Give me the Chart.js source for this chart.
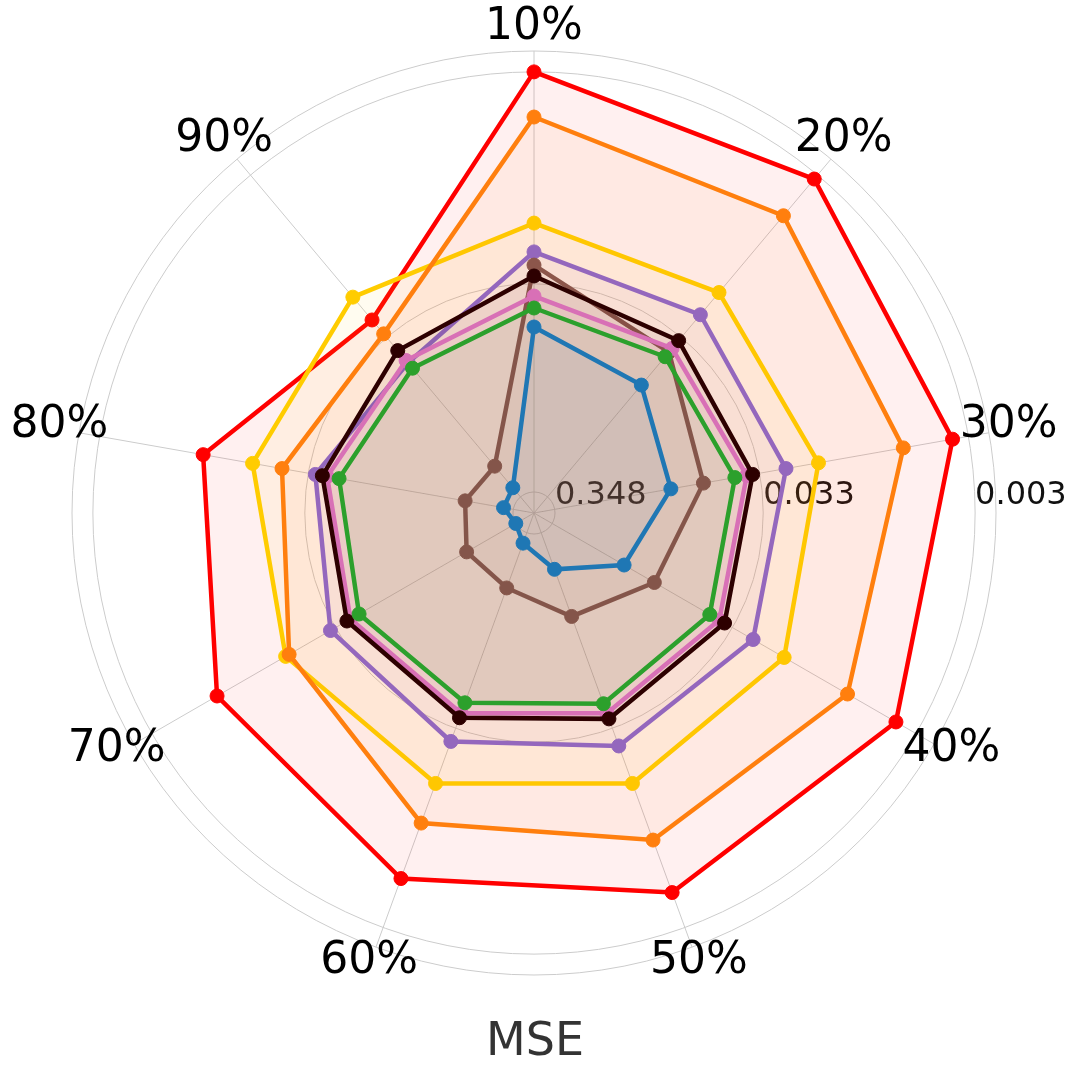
<!DOCTYPE html>
<html>
<head>
<meta charset="utf-8">
<script src="https://cdn.jsdelivr.net/npm/chart.js@4.4.1/dist/chart.umd.min.js"></script>
<style>
    html, body { margin: 0; padding: 0; background: #ffffff; }
    #wrap { position: relative; width: 1080px; height: 1079px; }
</style>
</head>
<body>
<div id="wrap"><canvas id="radarChart"></canvas></div>
<script>
// --- Data (MSE per missing ratio) ---
const axisLabels = ['10%', '20%', '30%', '40%', '50%', '60%', '70%', '80%', '90%'];
const tickValues = [0.348, 0.033, 0.003];
const tickLabels = ['0.348', '0.033', '0.003'];

const mseRed    = [0.00300, 0.00318, 0.00360, 0.00390, 0.00457, 0.00541, 0.00702, 0.00986, 0.0255];
const mseOrange = [0.00500, 0.00547, 0.00634, 0.00734, 0.00860, 0.01055, 0.0180, 0.0244, 0.0313];
const mseYellow = [0.0166, 0.0170, 0.0168, 0.0168, 0.0170, 0.0170, 0.0172, 0.0174, 0.0182];
const msePurple = [0.0230, 0.0236, 0.0244, 0.0252, 0.0267, 0.0282, 0.0309, 0.0358, 0.0481];
const mseBlack  = [0.0302, 0.0346, 0.0358, 0.0366, 0.0370, 0.0375, 0.0383, 0.0388, 0.0401];
const msePink   = [0.0379, 0.0388, 0.0383, 0.0392, 0.0396, 0.0396, 0.0401, 0.0410, 0.0464];
const mseGreen  = [0.0434, 0.0439, 0.0439, 0.0444, 0.0444, 0.0449, 0.0449, 0.0470, 0.0520];
const mseBrown  = [0.0267, 0.0410, 0.0630, 0.0916, 0.127, 0.179, 0.183, 0.200, 0.221];
const mseBlue   = [0.0538, 0.0667, 0.0916, 0.136, 0.224, 0.307, 0.348, 0.311, 0.304];

// lower MSE sits further out: radial axis is -log10(MSE)
const toScore = m => -Math.log10(m);
const R_MIN = 0.3552;
const R_MAX = 2.6255;

function series(data, color) {
    return {
        data: data.map(toScore),
        borderColor: color,
        backgroundColor: hexA(color, 0.06),
        pointBackgroundColor: color,
        pointBorderColor: color,
        borderWidth: 4.5,
        pointRadius: 7,
        pointBorderWidth: 1,
        fill: true
    };
}

function hexA(hex, a) {
    const n = parseInt(hex.slice(1), 16);
    return `rgba(${(n >> 16) & 255}, ${(n >> 8) & 255}, ${n & 255}, ${a})`;
}

// first dataset is painted last (on top)
const datasets = [
    series(mseBlue,   '#1f77b4'),
    series(mseGreen,  '#2ca02c'),
    series(mseBlack,  '#2d0000'),
    series(msePink,   '#e377c2'),
    series(mseBrown,  '#8c564b'),
    series(msePurple, '#9467bd'),
    series(mseOrange, '#ff7f0e'),
    series(mseYellow, '#ffcc00'),
    series(mseRed,    '#ff0000')
];

// --- Labels drawn around the radar ---
const labelPlugin = {
    id: 'labelPlugin',
    beforeDatasetsDraw(chart) {
        const r = chart.scales.r;
        const ctx = chart.ctx;
        ctx.save();
        ctx.font = '32px "DejaVu Sans"';
        ctx.fillStyle = '#111111';
        ctx.textAlign = 'left';
        ctx.textBaseline = 'middle';
        tickValues.forEach((v, i) => {
            const d = r.getDistanceFromCenterForValue(toScore(v));
            ctx.fillText(tickLabels[i], r.xCenter + d, r.yCenter - 17);
        });
        ctx.restore();
    },
    afterDraw(chart) {
        const r = chart.scales.r;
        const ctx = chart.ctx;
        ctx.save();
        ctx.font = '44px "DejaVu Sans"';
        ctx.fillStyle = '#000000';
        ctx.textAlign = 'center';
        ctx.textBaseline = 'middle';
        const dist = r.drawingArea * 1.043;
        axisLabels.forEach((lab, i) => {
            const p = r.getPointPosition(i, dist);
            ctx.fillText(lab, p.x, p.y - 4);
        });
        ctx.font = '46px "DejaVu Sans"';
        ctx.fillStyle = '#333333';
        ctx.fillText('MSE', r.xCenter + 1, 1043);
        ctx.restore();
    }
};

const ctxRadar = document.getElementById('radarChart').getContext('2d');
new Chart(ctxRadar, {
    type: 'radar',
    data: { labels: axisLabels, datasets: datasets },
    options: {
        responsive: true,
        maintainAspectRatio: false,
        animation: false,
        devicePixelRatio: 1,
        layout: { padding: { left: 72, right: 84, top: 51, bottom: 104 } },
        elements: { line: { tension: 0 } },
        plugins: {
            legend: { display: false },
            tooltip: { enabled: false }
        },
        scales: {
            r: {
                min: R_MIN,
                max: R_MAX,
                angleLines: { color: '#cccccc', lineWidth: 1 },
                grid: { circular: true, color: '#cccccc', lineWidth: 1 },
                pointLabels: { display: false },
                ticks: { display: false },
                afterBuildTicks: (scale) => {
                    scale.ticks = [R_MIN, ...tickValues.map(toScore), R_MAX].map(v => ({ value: v }));
                }
            }
        }
    },
    plugins: [labelPlugin]
});
</script>
</body>
</html>
